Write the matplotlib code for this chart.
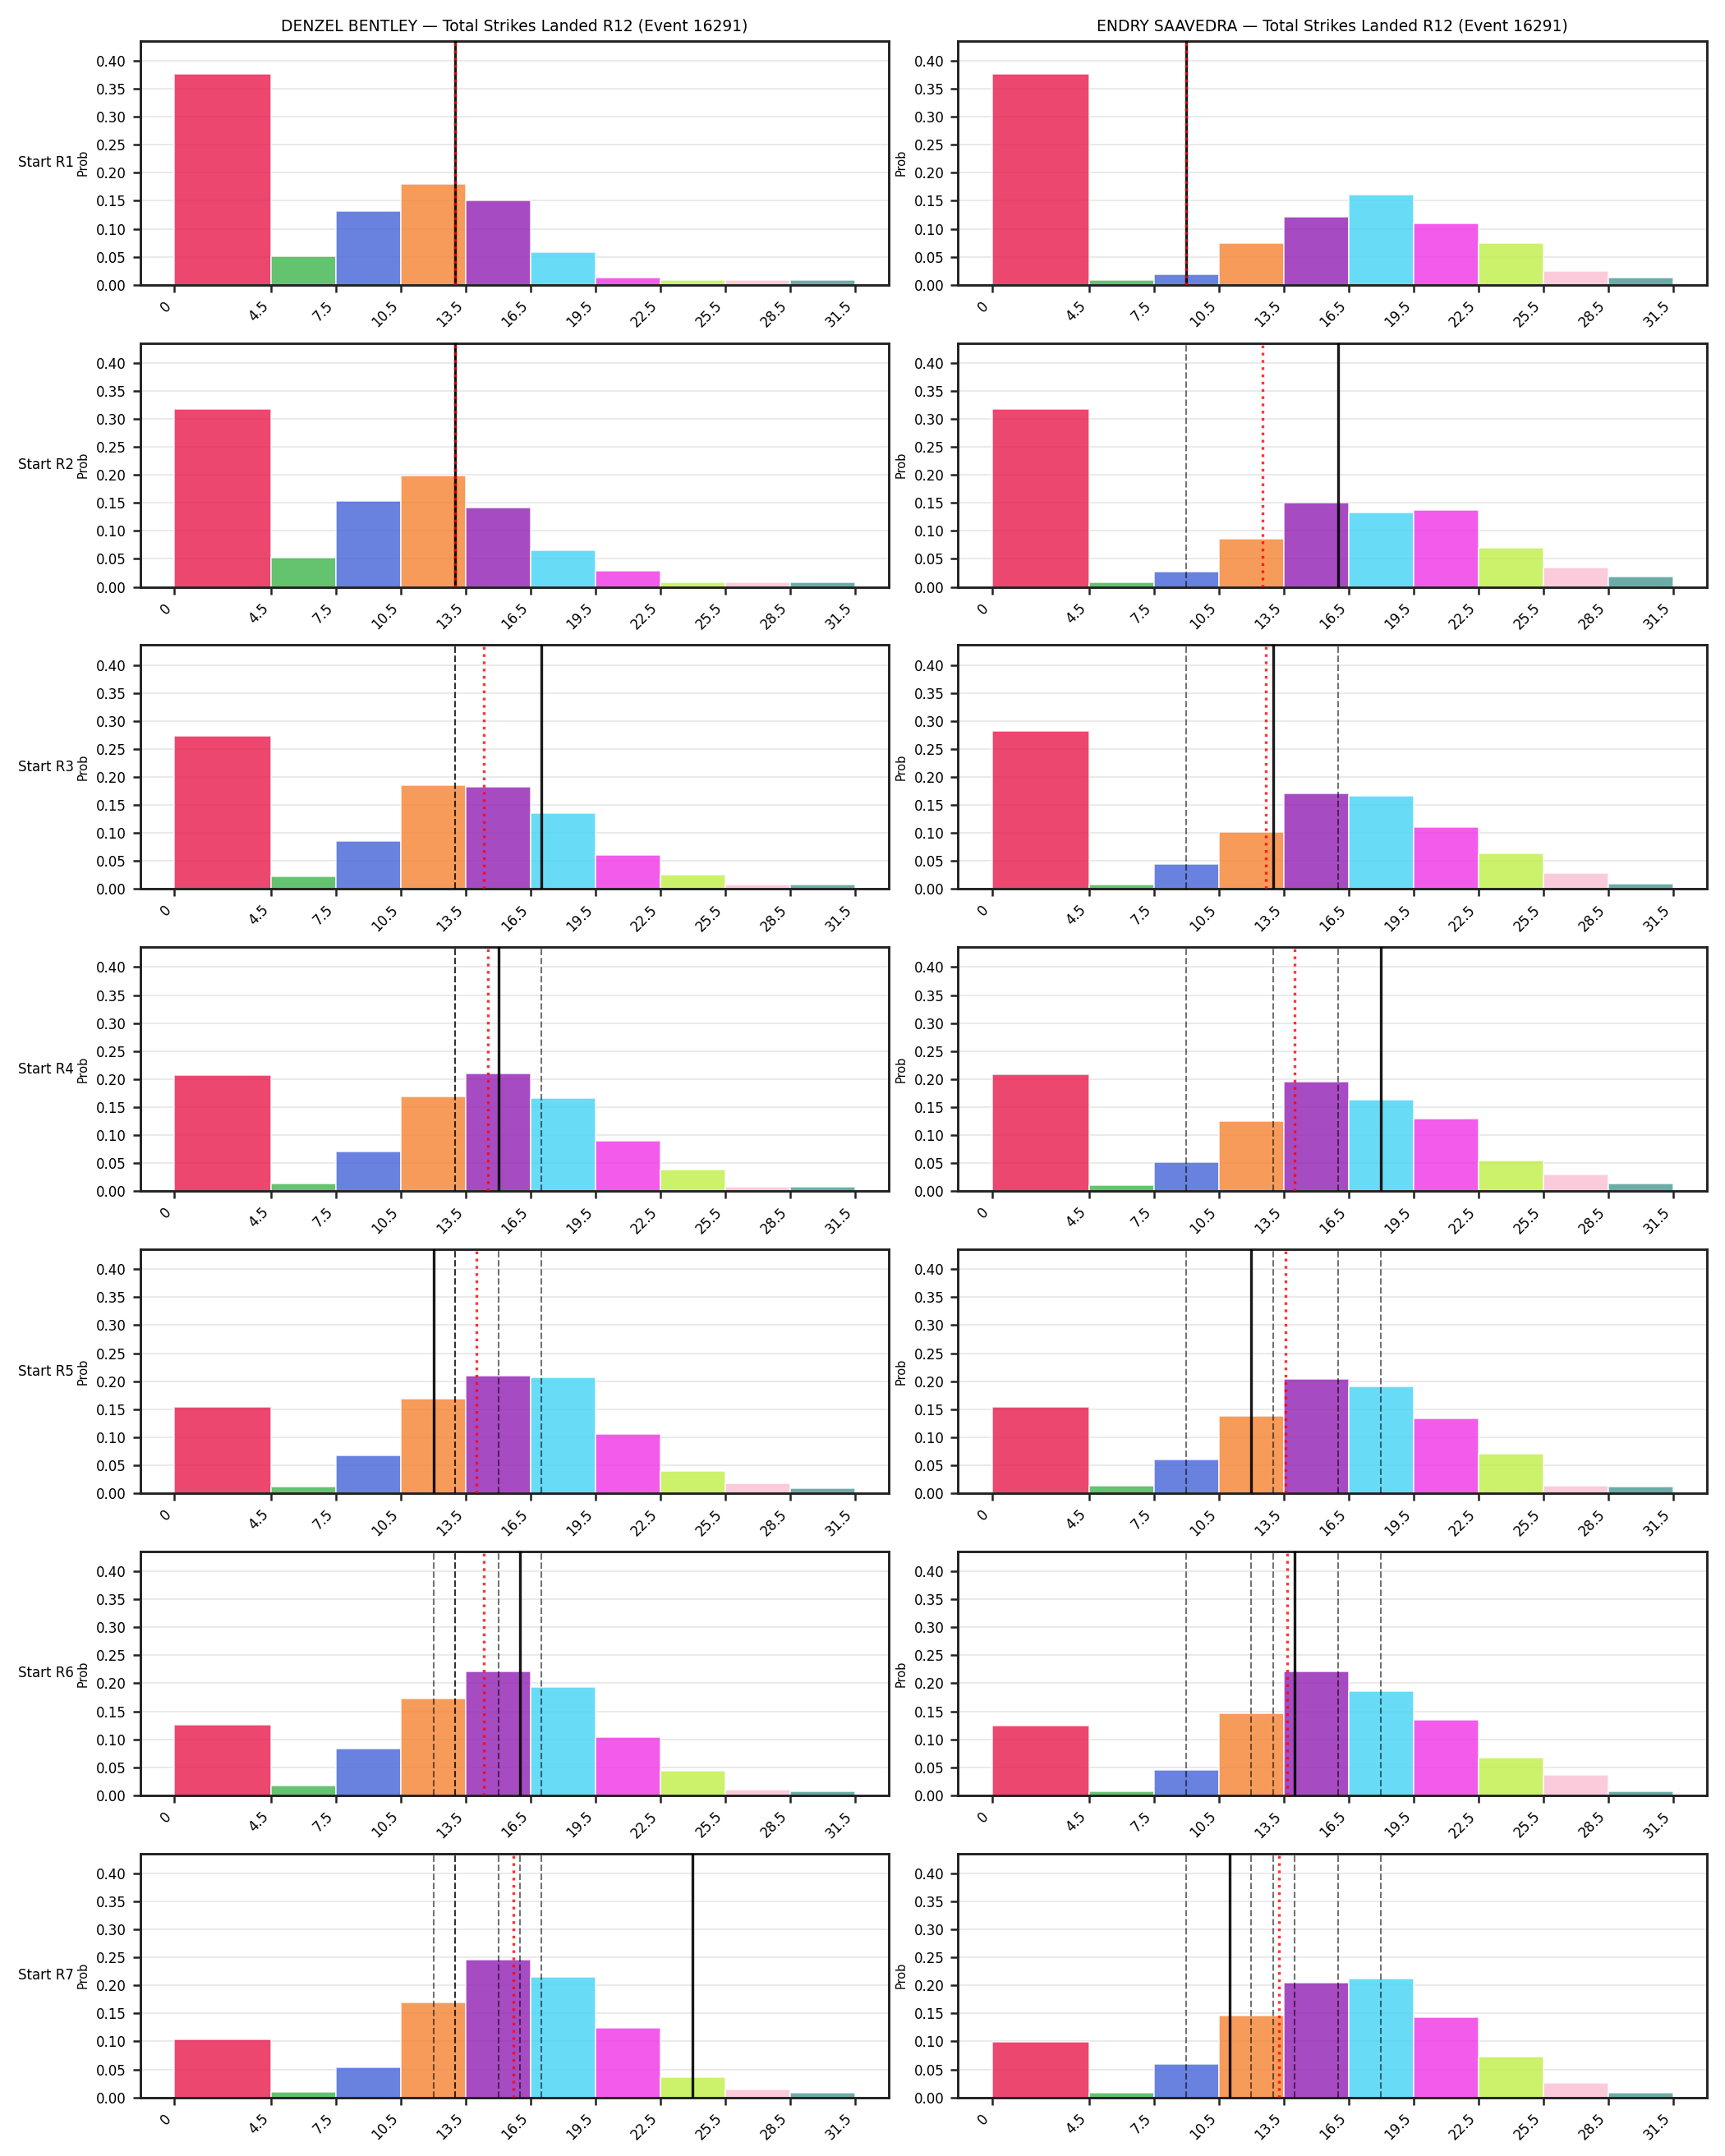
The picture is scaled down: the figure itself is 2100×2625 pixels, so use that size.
import numpy as np
import matplotlib
matplotlib.use("Agg")
import matplotlib.pyplot as plt

# bin edges of the strike count buckets
edges = [0, 4.5, 7.5, 10.5, 13.5, 16.5, 19.5, 22.5, 25.5, 28.5, 31.5]
edge_labels = ["0", "4.5", "7.5", "10.5", "13.5", "16.5", "19.5", "22.5", "25.5", "28.5", "31.5"]
row_labels = ["Start R1", "Start R2", "Start R3", "Start R4", "Start R5", "Start R6", "Start R7"]

fighters = ["DENZEL BENTLEY", "ENDRY SAAVEDRA"]

# probability per bucket, one list per starting round
bentley_probs = [
    [0.377, 0.051, 0.131, 0.180, 0.150, 0.059, 0.013, 0.009, 0.009, 0.009],
    [0.318, 0.052, 0.153, 0.199, 0.142, 0.065, 0.028, 0.008, 0.008, 0.008],
    [0.274, 0.022, 0.086, 0.186, 0.183, 0.135, 0.061, 0.025, 0.008, 0.008],
    [0.207, 0.014, 0.071, 0.169, 0.210, 0.166, 0.090, 0.038, 0.008, 0.008],
    [0.154, 0.011, 0.067, 0.169, 0.210, 0.207, 0.105, 0.039, 0.017, 0.009],
    [0.126, 0.017, 0.083, 0.173, 0.221, 0.193, 0.104, 0.044, 0.010, 0.007],
    [0.104, 0.010, 0.054, 0.170, 0.246, 0.215, 0.124, 0.036, 0.014, 0.008],
]
saavedra_probs = [
    [0.377, 0.009, 0.019, 0.075, 0.122, 0.161, 0.110, 0.075, 0.025, 0.013],
    [0.318, 0.008, 0.027, 0.086, 0.150, 0.133, 0.137, 0.070, 0.034, 0.018],
    [0.282, 0.008, 0.044, 0.101, 0.171, 0.167, 0.111, 0.064, 0.029, 0.010],
    [0.209, 0.011, 0.052, 0.125, 0.195, 0.163, 0.130, 0.055, 0.029, 0.014],
    [0.154, 0.013, 0.060, 0.138, 0.204, 0.190, 0.134, 0.071, 0.013, 0.011],
    [0.124, 0.007, 0.045, 0.146, 0.221, 0.186, 0.135, 0.067, 0.036, 0.007],
    [0.099, 0.008, 0.060, 0.146, 0.205, 0.212, 0.143, 0.073, 0.026, 0.008],
]

# line at each start round
bentley_lines = [13, 13, 17, 15, 12, 16, 24]
saavedra_lines = [9, 16, 13, 18, 12, 14, 11]

colors = ["#e6194B", "#3cb44b", "#4363d8", "#f58231", "#911eb4",
          "#42d4f4", "#f032e6", "#bfef45", "#fabed4", "#469990"]


def draw_panel(ax, probs, lines, k, ymax):
    """one histogram with the current line, earlier lines and their mean"""
    widths = np.diff(edges)
    ax.bar(edges[:-1], probs, width=widths, align="edge", color=colors,
           alpha=0.8, edgecolor="white", linewidth=0.8, zorder=2)
    for prev in lines[:k]:
        ax.axvline(prev, color="k", linestyle="--", linewidth=1.0, alpha=0.55, zorder=3)
    ax.axvline(lines[k], color="k", linestyle="-", linewidth=1.6, alpha=0.9, zorder=4)
    ax.axvline(np.mean(lines[:k + 1]), color="red", linestyle=":", linewidth=1.6,
               alpha=0.8, zorder=5)

    ax.set_ylim(0, ymax)
    ax.set_yticks(np.arange(0, 0.41, 0.05))
    ax.set_xticks(edges)
    ax.set_xticklabels(edge_labels, rotation=45, ha="right")
    ax.tick_params(labelsize=8, length=4.5, width=1.2, color="#222222")
    ax.set_ylabel("Prob", fontsize=7)
    ax.grid(axis="y", color="#e9e9e9", linewidth=0.9)
    ax.set_axisbelow(True)
    for sp in ax.spines.values():
        sp.set_linewidth(1.4)
        sp.set_color("#222222")


fig, axes = plt.subplots(7, 2, figsize=(14, 17.5))
plt.subplots_adjust(left=0.0812, right=0.9895, top=0.981, bottom=0.0272,
                    wspace=0.092, hspace=0.239)

all_probs = [bentley_probs, saavedra_probs]
all_lines = [bentley_lines, saavedra_lines]
ymax = max(max(max(r) for r in p) for p in all_probs) * 1.155

for col in range(2):
    for k in range(7):
        ax = axes[k, col]
        draw_panel(ax, all_probs[col][k], all_lines[col], k, ymax)
        if k == 0:
            ax.set_title(f"{fighters[col]} \u2014 Total Strikes Landed R12 (Event 16291)",
                         fontsize=9)
        if col == 0:
            ax.text(-0.088, 0.5, row_labels[k], transform=ax.transAxes,
                    ha="right", va="center", fontsize=8)

fig.savefig("out.png", dpi=150)
